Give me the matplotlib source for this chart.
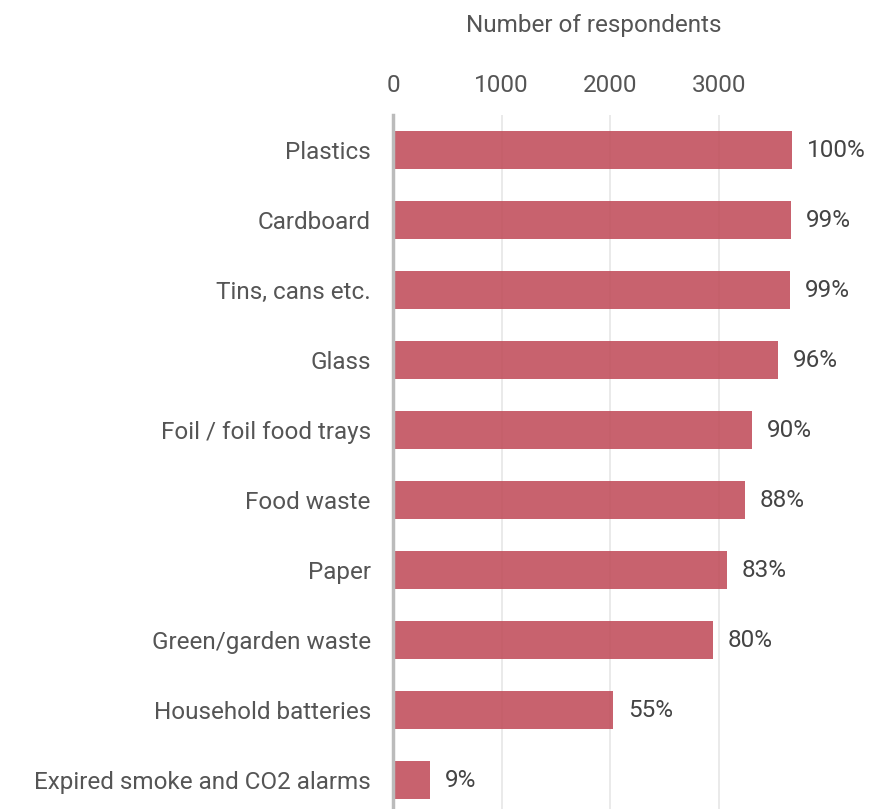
import matplotlib
matplotlib.use("Agg")
import matplotlib.pyplot as plt

categories = ["Plastics", "Cardboard", "Tins, cans etc.", "Glass", "Foil / foil food trays",
              "Food waste", "Paper", "Green/garden waste", "Household batteries",
              "Expired smoke and CO2 alarms"]
respondents = [3670, 3662, 3652, 3542, 3303, 3238, 3073, 2944, 2024, 340]
pct_labels = ["100%", "99%", "99%", "96%", "90%", "88%", "83%", "80%", "55%", "9%"]
ticks = [0, 1000, 2000, 3000]

plt.rcParams['font.family'] = ['Roboto', 'DejaVu Sans']
text_col = "#555555"
fs = 17.5

fig = plt.figure(figsize=(8.69, 8.09), dpi=100)
ax = fig.add_axes([393 / 869, 0, (795 - 393) / 869, 1 - 115 / 809])

y = list(range(len(categories)))
ax.barh(y, respondents, height=0.54, color="#c04b58", alpha=0.87, zorder=2)
for yi, v, lab in zip(y, respondents, pct_labels):
    ax.text(v + 140, yi, lab, va="center", ha="left", fontsize=fs, color="#444444")

ax.set_xlim(0, 3700)
ax.set_ylim(9.41, -0.5)
ax.set_yticks(y)
ax.set_yticklabels(categories, fontsize=fs, color=text_col)
ax.set_xticks(ticks)
ax.set_xticklabels([str(t) for t in ticks], fontsize=fs, color=text_col)
ax.xaxis.tick_top()
ax.xaxis.set_label_position("top")
ax.set_xlabel("Number of respondents", fontsize=fs, color=text_col, labelpad=30)
ax.tick_params(axis="both", length=0)
ax.tick_params(axis="x", pad=13)
ax.tick_params(axis="y", pad=16)
ax.grid(axis="x", color="#e6e6e6", linewidth=1.2, zorder=0)
for s in ["top", "right", "bottom"]:
    ax.spines[s].set_visible(False)
ax.spines["left"].set_color("#bbbbbb")
ax.spines["left"].set_linewidth(2.5)
ax.spines["left"].set_zorder(3)

fig.savefig("out.png", dpi=100)
